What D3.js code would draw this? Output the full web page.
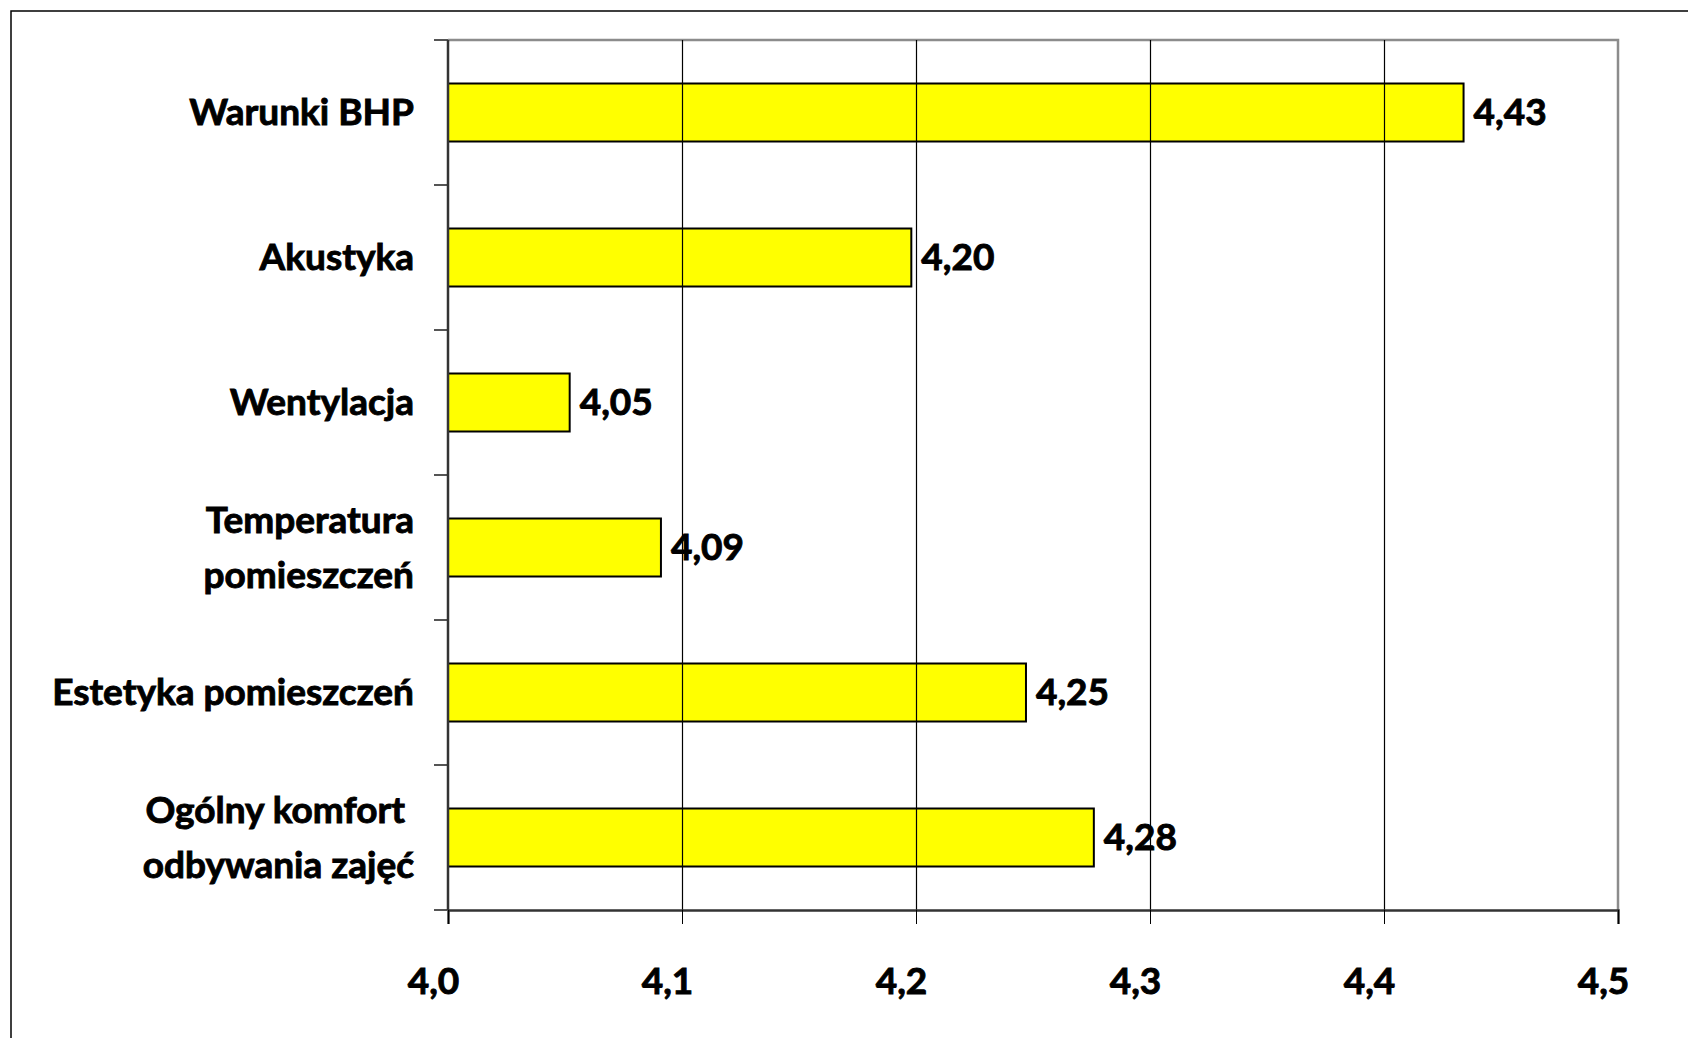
<!DOCTYPE html>
<html>
<head>
<meta charset="utf-8">
<script src="https://cdn.jsdelivr.net/npm/d3@7"></script>
<style>
    body { margin: 0; background: #fff; }
    /* Lato bold with a thin outline to get closer to the heavy Calibri bold */
    svg text { font-family: Lato, 'Open Sans', sans-serif; font-weight: bold; fill: #000;
               stroke: #000; stroke-width: 0.9px; }
</style>
</head>
<body>
<svg id="chart" width="1688" height="1038"></svg>
<script>
'use strict';

// categories top to bottom, each label may span two lines
const categories = [
    ['Warunki BHP'],
    ['Akustyka'],
    ['Wentylacja'],
    ['Temperatura', 'pomieszczeń'],
    ['Estetyka pomieszczeń'],
    ['Ogólny komfort ', 'odbywania zajęć']
];
const values = [4.434, 4.198, 4.052, 4.091, 4.247, 4.276];
const xTicks = [4.0, 4.1, 4.2, 4.3, 4.4, 4.5];

const svg = d3.select('#chart');
const plot = {left: 448, right: 1618, top: 40, bottom: 910};
const fontSize = 37;

// outer frame (right / bottom edges sit outside the picture)
svg.append('rect')
    .attr('x', 11).attr('y', 11)
    .attr('width', 1720).attr('height', 1100)
    .attr('fill', 'none')
    .attr('stroke', '#000')
    .attr('stroke-width', 1.5);

let x = d3.scaleLinear().domain([4.0, 4.5]).range([plot.left, plot.right]);
let y = d3.scaleBand()
    .domain(d3.range(categories.length))
    .range([plot.top, plot.bottom])
    .paddingInner(0.6)
    .paddingOuter(0.3);

let comma = (v, n) => v.toFixed(n).replace('.', ',');

// plot border top / right in grey
svg.append('path')
    .attr('d', `M${plot.left},${plot.top}H${plot.right}V${plot.bottom}`)
    .attr('fill', 'none')
    .attr('stroke', '#8c8c8c')
    .attr('stroke-width', 2.5);

// bars
svg.append('g')
    .selectAll('rect')
    .data(values)
    .enter()
    .append('rect')
    .attr('x', x(4.0))
    .attr('y', (d, i) => y(i))
    .attr('width', (d) => x(d) - x(4.0))
    .attr('height', y.bandwidth())
    .attr('fill', '#ffff00')
    .attr('stroke', '#000')
    .attr('stroke-width', 2);

// value labels
svg.append('g')
    .selectAll('text')
    .data(values)
    .enter()
    .append('text')
    .attr('x', (d) => x(d) + 10)
    .attr('y', (d, i) => y(i) + y.bandwidth() / 2)
    .attr('dy', '0.35em')
    .attr('font-size', fontSize)
    .text((d) => comma(d, 2));

// vertical gridlines (drawn over labels, bars cover them)
svg.append('g')
    .selectAll('line')
    .data(xTicks.slice(1, -1))
    .enter()
    .append('line')
    .attr('x1', (d) => Math.round(x(d)) + 0.5).attr('x2', (d) => Math.round(x(d)) + 0.5)
    .attr('y1', plot.top).attr('y2', plot.bottom)
    .attr('stroke', '#000')
    .attr('stroke-width', 1.2);
svg.selectAll('rect[fill="#ffff00"]').raise();

// x axis
let xAxis = svg.append('g')
    .attr('transform', `translate(0,${plot.bottom})`)
    .call(d3.axisBottom(x).tickValues(xTicks).tickSize(14).tickPadding(44).tickFormat((d) => comma(d, 1)));
xAxis.select('.domain').attr('stroke', '#333').attr('stroke-width', 2.5);
xAxis.selectAll('.tick line').attr('stroke', '#000');
xAxis.selectAll('.tick text')
    .attr('font-size', fontSize)
    .attr('font-family', null)
    .attr('x', -15)
    .attr('dy', '0.71em');

// y axis: ticks at band boundaries
let bounds = d3.range(categories.length + 1).map((i) => plot.top + i * y.step());
svg.append('g')
    .selectAll('line')
    .data(bounds)
    .enter()
    .append('line')
    .attr('x1', plot.left - 14).attr('x2', plot.left)
    .attr('y1', (d) => d).attr('y2', (d) => d)
    .attr('stroke', '#555')
    .attr('stroke-width', 2);
svg.append('line')
    .attr('x1', plot.left).attr('x2', plot.left)
    .attr('y1', plot.top).attr('y2', plot.bottom)
    .attr('stroke', '#333')
    .attr('stroke-width', 2.5);

// category labels
let labels = svg.append('g')
    .selectAll('text')
    .data(categories)
    .enter()
    .append('text')
    .attr('text-anchor', 'end')
    .attr('font-size', fontSize)
    .style('white-space', 'pre')
    .attr('transform', (d, i) => `translate(${plot.left - 34},${y(i) + y.bandwidth() / 2})`);

labels.selectAll('tspan')
    .data((d) => d.map((t, k) => ({t: t, k: k, n: d.length})))
    .enter()
    .append('tspan')
    .attr('x', 0)
    .attr('y', (d) => (d.k - (d.n - 1) / 2) * 55)
    .attr('dy', '0.35em')
    .text((d) => d.t);
</script>
</body>
</html>
